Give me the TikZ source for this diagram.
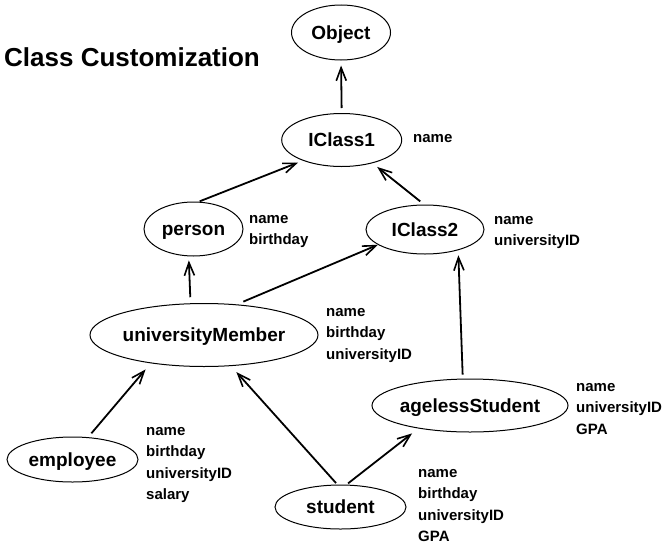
\documentclass[tikz,border=0pt]{standalone}
\usepackage{fontspec}
\setmainfont{Liberation Sans}
\usetikzlibrary{shapes.geometric,arrows.meta}

\tikzset{
  cls/.style 2 args={ellipse, draw, line width=1pt, inner sep=0pt,
    minimum width=#1pt, minimum height=#2pt,
    text height=13.6pt, text depth=0pt,
    font=\fontsize{19}{22}\selectfont\bfseries},
  attrs/.style={anchor=base west, inner sep=0pt,
    font=\fontsize{15}{21.5}\selectfont\bfseries},
  inherit/.style={line width=1.8pt,
    -{Straight Barb[length=13pt,width=10pt,line width=1.6pt]}},
}

% class name, kept out of the ellipse sizing
\newcommand{\clsname}[1]{\makebox[0pt]{#1}}
\newcommand{\attrlist}[1]{\begin{tabular}[t]{@{}l@{}}#1\end{tabular}}

\begin{document}
\begin{tikzpicture}[x=1pt,y=-1pt]
  \useasboundingbox (0,0) rectangle (663,546);

  % title
  \node[anchor=base west, inner sep=0pt,
        font=\fontsize{26}{30}\selectfont\bfseries] (title) at (4,66) {Class Customization};

  % classes
  \node[cls={99}{55}]  (Object)   at (341,32.5)  {\clsname{Object}};
  \node[cls={120}{53}] (IClass1)  at (341.7,140) {\clsname{IClass1}};
  \node[cls={99}{54}]  (person)   at (193.5,229) {\clsname{person}};
  \node[cls={118}{49}] (IClass2)  at (425,229.5) {\clsname{IClass2}};
  \node[cls={228}{63}] (uMember)  at (204,335)   {\clsname{universityMember}};
  \node[cls={196}{53}] (ageless)  at (470,405.5) {\clsname{agelessStudent}};
  \node[cls={131}{45}] (employee) at (72.5,459.5) {\clsname{employee}};
  \node[cls={131}{44}] (student)  at (340.5,507) {\clsname{student}};

  % attribute lists
  \node[attrs] (aIClass1)  at (413,142) {\attrlist{name}};
  \node[attrs] (aPerson)   at (249,223) {\attrlist{name\\birthday}};
  \node[attrs] (aIClass2)  at (494,224) {\attrlist{name\\universityID}};
  \node[attrs] (aMember)   at (326,316) {\attrlist{name\\birthday\\universityID}};
  \node[attrs] (aAgeless)  at (576,391) {\attrlist{name\\universityID\\GPA}};
  \node[attrs] (aEmployee) at (146,435) {\attrlist{name\\birthday\\universityID\\salary}};
  \node[attrs] (aStudent)  at (418,477) {\attrlist{name\\birthday\\universityID\\GPA}};

  % inheritance arrows
  \draw[inherit, shorten <=5pt, shorten >=5pt] (IClass1.90)  -- (Object.-90);
  \draw[inherit, shorten <=1pt, shorten >=5pt] (person.79)   -- (IClass1.-152);
  \draw[inherit, shorten <=5pt, shorten >=6pt] (IClass2.92)  -- (IClass1.-37);
  \draw[inherit, shorten <=6pt, shorten >=4pt] (uMember.113) -- (person.-100);
  \draw[inherit, shorten <=7pt, shorten >=0pt] (uMember.43.5) -- (IClass2.-162);
  \draw[inherit, shorten <=4pt, shorten >=5pt] (ageless.105) -- (IClass2.-32);
  \draw[inherit, shorten <=5pt, shorten >=8pt] (employee.55) -- (uMember.-152);
  \draw[inherit, shorten <=2pt, shorten >=8pt] (student.98)  -- (uMember.-49);
  \draw[inherit, shorten <=2pt, shorten >=8pt] (student.75)  -- (ageless.-156);
\end{tikzpicture}
\end{document}
